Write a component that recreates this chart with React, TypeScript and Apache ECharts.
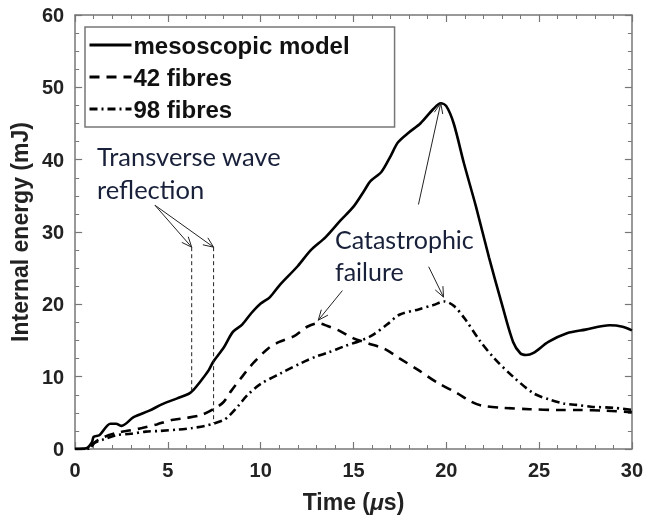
import React, { useEffect, useRef } from "react";
import * as echarts from "echarts";

// ---- Data ----
const timeMeso = [0, 0.6, 0.9, 1.0, 1.3, 1.9, 2.2, 2.5, 3.15, 4.0, 4.7, 5.5, 6.1, 6.35, 6.8, 7.2, 7.45, 8.0, 8.5, 9.0, 9.5, 10.0, 10.5, 11.0, 12.0, 12.7, 13.5, 14.3, 15.0, 15.6, 15.9, 16.5, 17.0, 17.4, 18.0, 18.6, 19.3, 19.7, 20.0, 20.4, 20.95, 21.6, 22.3, 23.0, 23.6, 24.0, 24.3, 24.7, 25.5, 26.5, 27.5, 28.8, 29.5, 30];
const energyMeso = [0, 0.1, 0.9, 1.7, 1.9, 3.5, 3.5, 3.2, 4.4, 5.3, 6.2, 7.0, 7.6, 8.1, 9.5, 10.9, 12.1, 14.0, 16.2, 17.2, 18.8, 20.1, 21.0, 22.6, 25.3, 27.5, 29.3, 31.6, 33.5, 35.8, 37.0, 38.3, 40.5, 42.4, 43.8, 45.0, 47.0, 47.8, 47.4, 45.0, 39.5, 33.5, 26.5, 20.0, 14.8, 13.2, 13.0, 13.3, 14.8, 16.0, 16.5, 17.1, 16.9, 16.4];

const time42 = [0, 0.7, 1.1, 1.6, 2.2, 3.0, 3.6, 4.4, 5.2, 6.0, 6.8, 7.45, 8.0, 8.4, 9.0, 9.5, 10.4, 11.0, 11.8, 12.5, 13.1, 13.6, 14.2, 15.0, 15.8, 16.7, 17.5, 18.5, 19.5, 20.6, 21.3, 21.9, 23.0, 24.5, 26.0, 27.2, 28.5, 30];
const energy42 = [0, 0, 1.0, 1.7, 2.2, 2.6, 2.9, 3.4, 4.0, 4.3, 4.7, 5.5, 6.5, 8.0, 10.0, 11.6, 13.9, 14.8, 15.6, 16.9, 17.4, 17.0, 16.4, 15.3, 14.6, 13.8, 12.5, 10.9, 9.2, 7.7, 6.6, 6.0, 5.7, 5.5, 5.4, 5.4, 5.3, 5.1];

const time98 = [0, 0.7, 1.0, 1.5, 2.2, 3.0, 3.8, 4.6, 5.6, 6.3, 7.0, 7.45, 8.0, 8.3, 8.8, 9.3, 10.0, 11.1, 12.2, 13.0, 13.6, 14.5, 15.4, 16.0, 16.8, 17.5, 18.5, 19.3, 19.9, 20.4, 21.0, 21.8, 22.6, 23.6, 24.7, 25.6, 26.3, 27.0, 27.8, 29.0, 30];
const energy98 = [0, 0, 0.8, 1.3, 1.9, 2.1, 2.4, 2.5, 2.7, 2.9, 3.2, 3.5, 4.0, 4.6, 6.0, 7.5, 9.0, 10.5, 11.9, 12.8, 13.3, 14.2, 15.0, 15.7, 17.2, 18.6, 19.3, 19.9, 20.4, 19.8, 18.0, 15.0, 12.5, 10.0, 7.7, 6.8, 6.3, 6.1, 5.85, 5.7, 5.4];

const seriesNames = ["mesoscopic model", "42 fibres", "98 fibres"];
const xTicks = { min: 0, max: 30, interval: 5 };
const yTicks = { min: 0, max: 60, interval: 10 };

// annotation anchors in data coordinates [time, energy]
const waveArrowTail = [4.3, 33.7];
const waveArrowHeads = [[6.28, 27.9], [7.46, 27.9]];
const waveLineBottoms = [[6.28, 7.9], [7.46, 3.6]];
const catArrows = [
  [[18.5, 33.8], [19.7, 47.8]],
  [[19.05, 25.2], [19.85, 21.0]],
  [[14.4, 21.9], [13.1, 17.8]],
];

const pair = (xs: number[], ys: number[]) => xs.map((x, i) => [x, ys[i]]);

const FONT = "'Liberation Sans', Arial, sans-serif";
const ANNOT_FONT = "Lato, 'Open Sans', sans-serif";
const ANNOT_COLOR = "#18203a";

export default function App() {
  const ref = useRef<HTMLDivElement>(null);
  useEffect(() => {
    if (!ref.current) return;
    const chart = echarts.init(ref.current, null, { renderer: "svg" });
    const axisLine = { show: true, onZero: false, lineStyle: { color: "#777", width: 1.5 } };
    const tick = { show: true, inside: true, length: 7, lineStyle: { color: "#777", width: 1.2 } };
    const minorTick = (n: number) => ({ show: true, splitNumber: n, length: 4, lineStyle: { color: "#777", width: 1 } });
    const label = { fontSize: 20, fontWeight: "bold", fontFamily: FONT, color: "#222" };
    const option: any = {
      animation: false,
      grid: { left: 73, right: 14, top: 15, bottom: 69, containLabel: false },
      xAxis: [
        {
          type: "value", position: "bottom", ...xTicks,
          axisLine, axisTick: tick, minorTick: minorTick(5), splitLine: { show: false },
          axisLabel: { ...label, margin: 11 },
          name: "Time ({i|μ}s)", nameLocation: "middle", nameGap: 41,
          nameTextStyle: {
            fontSize: 23, fontWeight: "bold", fontFamily: FONT, color: "#222",
            rich: { i: { fontSize: 23, fontWeight: "bold", fontStyle: "italic", fontFamily: FONT, color: "#222" } },
          },
        },
        {
          type: "value", position: "top", ...xTicks,
          axisLine, axisTick: tick, minorTick: minorTick(5), splitLine: { show: false },
          axisLabel: { show: false },
        },
      ],
      yAxis: [
        {
          type: "value", position: "left", ...yTicks,
          axisLine, axisTick: tick, minorTick: minorTick(4), splitLine: { show: false },
          axisLabel: { ...label, margin: 11 },
          name: "Internal energy (mJ)", nameLocation: "middle", nameGap: 34,
          nameTextStyle: { fontSize: 23, fontWeight: "bold", fontFamily: FONT, color: "#222" },
        },
        {
          type: "value", position: "right", ...yTicks,
          axisLine, axisTick: tick, minorTick: minorTick(4), splitLine: { show: false },
          axisLabel: { show: false },
        },
      ],
      legend: {
        orient: "vertical", left: 85, top: 27,
        data: seriesNames,
        itemWidth: 42, itemHeight: 14, itemGap: 8,
        padding: [6, 45, 6, 3],
        itemStyle: { opacity: 0 },
        lineStyle: { width: 3 },
        backgroundColor: "#fff", borderColor: "#777", borderWidth: 1.5, borderRadius: 0,
        textStyle: { fontSize: 24, fontWeight: "bold", fontFamily: FONT, color: "#111", padding: [0, 0, 0, -3] },
      },
      series: [
        {
          name: seriesNames[0], type: "line", data: pair(timeMeso, energyMeso),
          showSymbol: false, symbol: "none", smooth: 0.3,
          lineStyle: { color: "#000", width: 2.6, type: "solid" }, itemStyle: { color: "#000" },
        },
        {
          name: seriesNames[1], type: "line", data: pair(time42, energy42),
          showSymbol: false, symbol: "none", smooth: 0.3,
          lineStyle: { color: "#000", width: 2.6, type: [10, 7] }, itemStyle: { color: "#000" },
        },
        {
          name: seriesNames[2], type: "line", data: pair(time98, energy98),
          showSymbol: false, symbol: "none", smooth: 0.3,
          lineStyle: { color: "#000", width: 2.6, type: [8, 4, 2, 4] }, itemStyle: { color: "#000" },
        },
      ],
    };
    chart.setOption(option);

    const px = (p: number[]) => chart.convertToPixel({ gridIndex: 0 }, p) as number[];
    const arrowHead = (tail: number[], head: number[]) => {
      const a = Math.atan2(head[1] - tail[1], head[0] - tail[0]);
      const L = 11, s = 0.4;
      return [
        [head[0] - L * Math.cos(a - s), head[1] - L * Math.sin(a - s)],
        head,
        [head[0] - L * Math.cos(a + s), head[1] - L * Math.sin(a + s)],
      ];
    };
    const graphics: any[] = [];
    const arrow = (t: number[], h: number[]) => {
      graphics.push({ type: "line", shape: { x1: t[0], y1: t[1], x2: h[0], y2: h[1] }, style: { stroke: "#222", lineWidth: 1 }, z: 20 });
      graphics.push({ type: "polyline", shape: { points: arrowHead(t, h) }, style: { stroke: "#222", lineWidth: 1, fill: null }, z: 20 });
    };
    const tailW = px(waveArrowTail);
    waveArrowHeads.forEach((h, i) => {
      const hp = px(h);
      arrow(tailW, hp);
      const bp = px(waveLineBottoms[i]);
      graphics.push({ type: "line", shape: { x1: hp[0], y1: hp[1], x2: bp[0], y2: bp[1] }, style: { stroke: "#222", lineWidth: 1, lineDash: [4, 3] }, z: 20 });
    });
    catArrows.forEach(([t, h]) => arrow(px(t), px(h)));
    graphics.push({
      type: "text", left: 97, top: 139, z: 30,
      style: { text: "Transverse wave\nreflection", font: `25.5px ${ANNOT_FONT}`, fill: ANNOT_COLOR, lineHeight: 33 },
    });
    graphics.push({
      type: "text", left: 335, top: 223, z: 30,
      style: { text: "Catastrophic\nfailure", font: `25px ${ANNOT_FONT}`, fill: ANNOT_COLOR, lineHeight: 32 },
    });
    chart.setOption({ graphic: graphics });

    return () => chart.dispose();
  }, []);
  return <div ref={ref} style={{ position: "fixed", left: 0, top: 0, width: 646, height: 518 }} />;
}
